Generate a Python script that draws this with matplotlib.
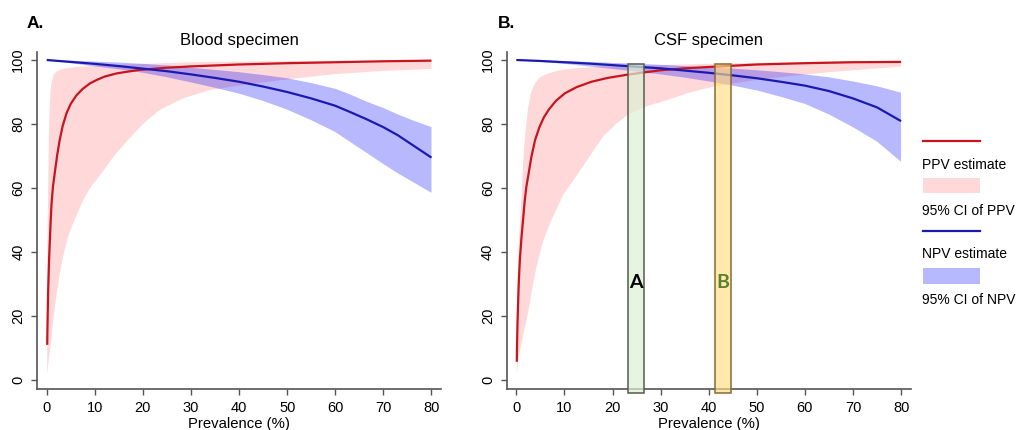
import numpy as np
import matplotlib
matplotlib.use("Agg")
import matplotlib.pyplot as plt
from matplotlib.patches import Rectangle

plt.rcParams['font.family'] = ['Liberation Sans', 'DejaVu Sans']

# ---------------- data ----------------
panel_titles = ["Blood specimen", "CSF specimen"]
panel_letters = ["A.", "B."]
x_ticks = [0, 10, 20, 30, 40, 50, 60, 70, 80]
y_ticks = [0, 20, 40, 60, 80, 100]

# Blood specimen
blood_ppv_x = [0.1, 0.15, 0.2, 0.3, 0.5, 0.8, 1.0, 1.3, 1.7, 2.2, 2.7, 3.3, 4.1, 5.0, 6.2, 7.5, 9,
               10.3, 12, 14.5, 17, 19.3, 25, 30, 40, 50, 60, 70, 80]
blood_ppv = [11, 16, 20, 28, 38, 49, 55, 60.5, 65, 70.5, 75, 79.3, 83.3, 86.3, 89, 91, 92.7,
             93.7, 94.8, 95.8, 96.4, 96.9, 97.6, 98.0, 98.6, 99.0, 99.3, 99.6, 99.8]
blood_ppv_hi_x = [0.1, 0.2, 0.3, 0.4, 0.5, 0.65, 0.8, 1.0, 1.3, 1.6, 2.0, 3, 4.1, 6, 10, 15, 20, 30, 50, 80]
blood_ppv_hi = [30, 48, 60, 71, 80, 86, 90.6, 93, 94.7, 95.7, 96.4, 97.0, 97.4, 97.8, 98.2, 98.5,
                98.8, 99.3, 99.7, 99.9]
blood_ppv_lo_x = [0.1, 0.4, 0.8, 1.3, 1.9, 2.7, 3.7, 4.7, 5.8, 7.5, 9.3, 11.4, 14, 16.9, 20, 23.5,
                  28.3, 33.9, 40, 45, 52, 60, 70, 80]
blood_ppv_lo = [1.5, 6, 10.7, 18, 25, 33, 40.6, 46, 50, 56, 60.6, 64.6, 70, 75, 80, 84.4,
                88, 90.6, 92, 93, 94.3, 95.6, 96.6, 97.2]

blood_npv_x = [0, 5, 10, 15, 20, 25, 30, 35, 40, 45, 50, 55, 60, 63, 66.5, 70, 73, 76, 80]
blood_npv = [100, 99.4, 98.8, 98.1, 97.3, 96.5, 95.5, 94.4, 93.2, 91.7, 90, 88, 85.7, 83.8,
             81.5, 79, 76.5, 73.5, 69.5]
blood_npv_hi = [100, 99.8, 99.5, 99.2, 98.8, 98.3, 97.6, 96.9, 96.2, 95.3, 94.3, 92.8, 91,
                89.3, 87, 85, 83, 81.2, 79]
blood_npv_lo = [100, 99, 98, 97.1, 96, 94.6, 93, 91.3, 89.5, 87.2, 84.5, 81.2, 77.5, 74.5,
                71, 67.5, 64.6, 62, 58.5]

# CSF specimen
csf_ppv_x = [0.1, 0.15, 0.25, 0.35, 0.5, 0.65, 0.8, 1.1, 1.4, 1.75, 2.1, 2.5, 3.1, 3.9, 4.8, 5.7,
             6.7, 8.2, 10.1, 12.5, 15.6, 19, 23, 30, 35, 41, 50, 60, 70, 80]
csf_ppv = [5.7, 11, 18, 23, 30, 35, 39, 45, 50, 56, 60.5, 64, 69.5, 75, 79, 82,
           84.4, 87.2, 89.6, 91.5, 93.2, 94.4, 95.4, 96.8, 97.4, 97.9, 98.6, 99.0, 99.3, 99.4]
csf_ppv_hi_x = [0.1, 0.2, 0.4, 0.6, 0.9, 1.1, 1.3, 1.5, 1.75, 2.1, 2.45, 3.0, 3.8, 4.8, 6.6, 9,
                12.2, 16, 20, 30, 40, 60, 80]
csf_ppv_hi = [20, 28, 38, 45, 52, 58, 65, 70, 75, 80.5, 85, 89.5, 92.5, 94.5, 95.8, 96.8,
              97.4, 97.8, 98, 98.4, 98.8, 99.4, 99.8]
csf_ppv_lo_x = [0.1, 0.35, 0.8, 1.5, 2.3, 3.2, 4.2, 5.6, 7.3, 9.8, 12.9, 15.5, 18, 20.5, 23.2,
                27, 31.4, 36, 41, 50, 60, 70, 80]
csf_ppv_lo = [1.5, 5.7, 9.5, 14.5, 19.8, 27.5, 35.4, 43.5, 50, 58, 64.6, 70.5, 76, 79.7, 83,
              85.5, 87.5, 89.8, 91.7, 93.8, 95.5, 96.8, 97.9]

csf_npv_x = [0, 5, 10, 15, 20, 25, 30, 35, 40, 45, 50, 55, 60, 65, 70, 75, 80]
csf_npv = [100, 99.7, 99.3, 98.9, 98.4, 97.9, 97.4, 96.7, 96, 95.2, 94.3, 93.2, 92, 90.3,
           88, 85.2, 80.9]
csf_npv_hi = [100, 99.85, 99.7, 99.4, 99.1, 98.8, 98.5, 98.1, 97.7, 97.3, 96.8, 96.2, 95.5,
              94.6, 93.3, 91.8, 89.8]
csf_npv_lo = [100, 99.4, 98.8, 98.0, 97.2, 96.4, 95.5, 94.5, 93.3, 92.0, 90.5, 88.5, 86.3,
              83, 79, 74.5, 68.2]

# highlighted prevalence windows on the CSF panel
box_labels = ["A", "B"]
box_x_lo = [23.2, 41.4]
box_x_hi = [26.6, 44.7]
box_y_lo = -4.2
box_y_hi = 98.7
box_label_y = 30.6

legend_labels = ["PPV estimate", "95% CI of PPV", "NPV estimate", "95% CI of NPV"]

# ---------------- styling ----------------
RED = "#c8141e"
BLUE = "#1a1ab0"
PINK_FILL = (1.0, 0.0, 0.0, 0.15)
BLUE_FILL = (0.0, 0.0, 1.0, 0.28)
SPINE = "#555555"

W, H = 1027, 430
fig = plt.figure(figsize=(W / 100, H / 100), dpi=100)

def px_axes(l, t, r, b):
    return fig.add_axes([l / W, 1 - b / H, (r - l) / W, (b - t) / H])

axL = px_axes(37.1, 52, 441.1, 389)
axR = px_axes(506.7, 52, 910.7, 389)

panels = [
    (axL, blood_ppv_x, blood_ppv, blood_ppv_hi_x, blood_ppv_hi, blood_ppv_lo_x, blood_ppv_lo,
     blood_npv_x, blood_npv, blood_npv_hi, blood_npv_lo),
    (axR, csf_ppv_x, csf_ppv, csf_ppv_hi_x, csf_ppv_hi, csf_ppv_lo_x, csf_ppv_lo,
     csf_npv_x, csf_npv, csf_npv_hi, csf_npv_lo),
]

for i, (ax, px, py, hx, hy, lx, ly, nx, ny, nhi, nlo) in enumerate(panels):
    ax.fill(np.concatenate([hx, lx[::-1]]), np.concatenate([hy, ly[::-1]]),
            color=PINK_FILL, lw=0, zorder=1)
    ax.fill(np.concatenate([nx, nx[::-1]]), np.concatenate([nhi, nlo[::-1]]),
            color=BLUE_FILL, lw=0, zorder=2)
    ax.plot(px, py, color=RED, lw=1.6, zorder=3, solid_capstyle='butt', solid_joinstyle='round')
    ax.plot(nx, ny, color=BLUE, lw=1.6, zorder=3, solid_capstyle='butt', solid_joinstyle='round')

    ax.set_xlim(-2, 82)
    ax.set_ylim(-2.8, 102.5)
    ax.set_xticks(x_ticks)
    ax.set_yticks(y_ticks)
    ax.tick_params(axis='y', labelrotation=90, length=4.5, width=1, color=SPINE,
                   labelsize=10.5, pad=4)
    for lab in ax.get_yticklabels():
        lab.set_va('center')
    ax.tick_params(axis='x', length=4.5, width=1, color=SPINE, labelsize=10.5, pad=4)
    for s in ['top', 'right']:
        ax.spines[s].set_visible(False)
    for s in ['left', 'bottom']:
        ax.spines[s].set_color(SPINE)
        ax.spines[s].set_linewidth(1.2)
    ax.set_xlabel("Prevalence (%)", fontsize=10.7, labelpad=1.5)
    ax.set_title(panel_titles[i], fontsize=12, pad=5)

fig.text(27 / W, 1 - 28 / H, panel_letters[0], fontsize=12.5, fontweight='bold', ha='left', va='baseline')
fig.text(498 / W, 1 - 28 / H, panel_letters[1], fontsize=12.5, fontweight='bold', ha='left', va='baseline')

# highlighted windows
box_faces = [(0.87, 0.94, 0.84, 0.7), (1.0, 0.87, 0.5, 0.65)]
box_edges = ["#4f5f46", "#8a6a32"]
label_colors = ["black", "#5b7f2a"]
for j, lab in enumerate(box_labels):
    r = Rectangle((box_x_lo[j], box_y_lo), box_x_hi[j] - box_x_lo[j], box_y_hi - box_y_lo,
                  facecolor=box_faces[j], edgecolor=box_edges[j], lw=1.1, zorder=5, clip_on=False)
    axR.add_patch(r)
    axR.text((box_x_lo[j] + box_x_hi[j]) / 2, box_label_y, lab, ha='center', va='center',
             fontsize=14, fontweight='bold', color=label_colors[j], family=['Lato', 'DejaVu Sans'],
             zorder=6)

# legend drawn in pixel space
leg = fig.add_axes([0, 0, 1, 1], facecolor='none')
leg.set_xlim(0, W)
leg.set_ylim(H, 0)
leg.axis('off')
lx0, lx1 = 922.5, 980
leg.plot([lx0, lx1], [140.5, 140.5], color=RED, lw=1.6)
leg.text(lx0, 165, legend_labels[0], fontsize=10, va='center', ha='left')
leg.add_patch(Rectangle((lx0, 177.5), lx1 - lx0, 15.5, facecolor=PINK_FILL, lw=0))
leg.text(lx0, 211, legend_labels[1], fontsize=10, va='center', ha='left')
leg.plot([lx0, lx1], [230.5, 230.5], color=BLUE, lw=1.6)
leg.text(lx0, 254, legend_labels[2], fontsize=10, va='center', ha='left')
leg.add_patch(Rectangle((lx0, 268), lx1 - lx0, 15.5, facecolor=BLUE_FILL, lw=0))
leg.text(lx0, 300, legend_labels[3], fontsize=10, va='center', ha='left')

fig.savefig("out.png", dpi=100)
